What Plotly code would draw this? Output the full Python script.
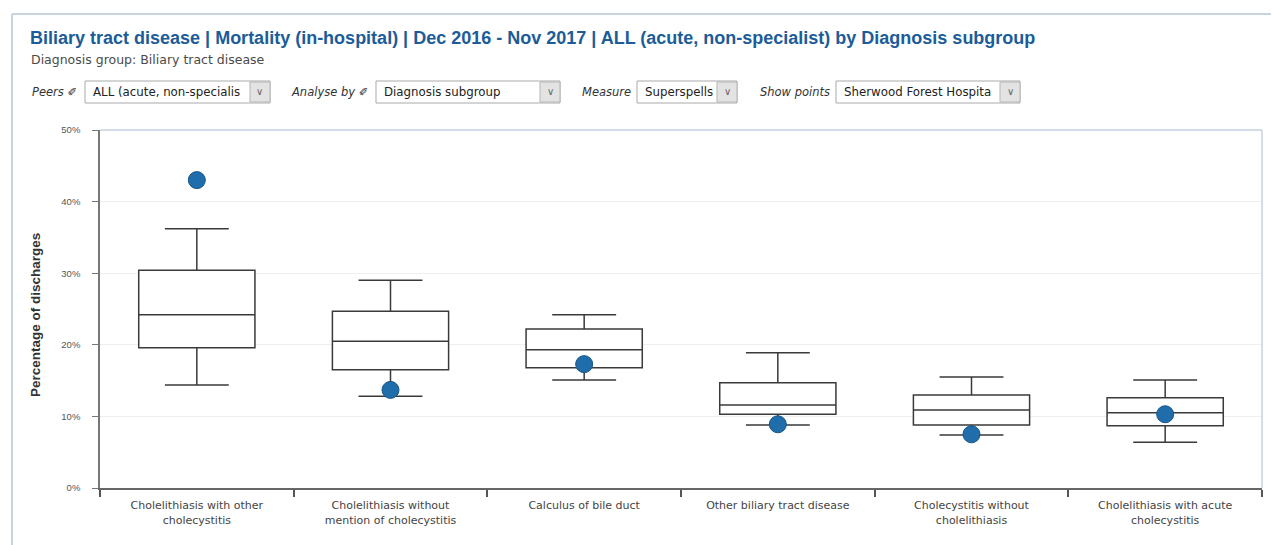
import plotly.graph_objects as go

categories = ["Cholelithiasis with other cholecystitis",
              "Cholelithiasis without mention of cholecystitis",
              "Calculus of bile duct",
              "Other biliary tract disease",
              "Cholecystitis without cholelithiasis",
              "Cholelithiasis with acute cholecystitis"]
tick_labels = ["Cholelithiasis with other<br>cholecystitis",
               "Cholelithiasis without<br>mention of cholecystitis",
               "Calculus of bile duct",
               "Other biliary tract disease",
               "Cholecystitis without<br>cholelithiasis",
               "Cholelithiasis with acute<br>cholecystitis"]
lower_whisker = [14.4, 12.8, 15.1, 8.8, 7.4, 6.4]
q1_values = [19.6, 16.5, 16.8, 10.3, 8.8, 8.7]
median_values = [24.2, 20.5, 19.3, 11.6, 10.9, 10.5]
q3_values = [30.4, 24.7, 22.2, 14.7, 13.0, 12.6]
upper_whisker = [36.2, 29.0, 24.2, 18.9, 15.5, 15.1]
trust_points = [43.0, 13.7, 17.3, 8.9, 7.5, 10.3]
y_ticks = [0, 10, 20, 30, 40, 50]

OFF = 8  # page body margin
W, H = 1279 - OFF, 545 - OFF
L, R, T, B = 100, 1262, 130, 488  # plot area in reference pixels


def px(x):
    return (x - L) / (R - L)


def py(y):
    return (B - y) / (B - T)


FONT = "Liberation Sans, Arial, sans-serif"
WIDE = "DejaVu Sans, Verdana, sans-serif"

fig = go.Figure()
fig.add_trace(go.Box(
    x=categories, q1=q1_values, median=median_values, q3=q3_values,
    lowerfence=lower_whisker, upperfence=upper_whisker,
    boxpoints=False, width=0.6, whiskerwidth=0.55,
    fillcolor="white", line=dict(color="#3a3a3a", width=1.5),
    hoverinfo="skip", showlegend=False))
fig.add_trace(go.Scatter(
    x=categories, y=trust_points, mode="markers",
    marker=dict(size=17, color="#1f6dab", line=dict(color="#1a5687", width=1)),
    showlegend=False))

shapes = []
shapes.append(dict(type="line", xref="paper", yref="paper",
                   x0=px(12), x1=px(1290), y0=py(14), y1=py(14),
                   line=dict(color="#c9d3dc", width=2)))
shapes.append(dict(type="line", xref="paper", yref="paper",
                   x0=px(12), x1=px(12), y0=py(14), y1=py(560),
                   line=dict(color="#c9d3dc", width=2)))
shapes.append(dict(type="line", xref="paper", yref="paper",
                   x0=0, x1=1, y0=1, y1=1, line=dict(color="#c4d2df", width=1.5)))
shapes.append(dict(type="line", xref="paper", yref="paper",
                   x0=1, x1=1, y0=0, y1=1, line=dict(color="#c4d2df", width=1.5)))

annotations = []
annotations.append(dict(
    text="<b>Biliary tract disease | Mortality (in-hospital) | Dec 2016 - Nov 2017 | ALL (acute, non-specialist) by Diagnosis subgroup</b>",
    xref="paper", yref="paper", x=px(28), y=py(38), xanchor="left", yanchor="middle",
    showarrow=False, font=dict(family=FONT, size=18, color="#1b5c99")))
annotations.append(dict(
    text="Diagnosis group: Biliary tract disease",
    xref="paper", yref="paper", x=px(29), y=py(59), xanchor="left", yanchor="middle",
    showarrow=False, font=dict(family=WIDE, size=12.5, color="#4a4a4a")))

controls = [
    ("Peers \u2710", 30, 85, 270, "ALL (acute, non-specialis"),
    ("Analyse by \u2710", 289, 376, 560, "Diagnosis subgroup"),
    ("Measure", 580, 637, 737, "Superspells"),
    ("Show points", 758, 836, 1020, "Sherwood Forest Hospita"),
]
for label, lx, bx0, bx1, val in controls:
    annotations.append(dict(text="<i>" + label + "</i>", xref="paper", yref="paper",
                            x=px(lx), y=py(92), xanchor="left", yanchor="middle",
                            showarrow=False, font=dict(family=WIDE, size=11.5, color="#333")))
    shapes.append(dict(type="rect", xref="paper", yref="paper",
                       x0=px(bx0), x1=px(bx1), y0=py(81), y1=py(103),
                       line=dict(color="#a9a9a9", width=1), fillcolor="white"))
    shapes.append(dict(type="rect", xref="paper", yref="paper",
                       x0=px(bx1 - 20), x1=px(bx1), y0=py(82), y1=py(102),
                       line=dict(color="#b5b5b5", width=1), fillcolor="#e3e3e3"))
    annotations.append(dict(text="\u2228", xref="paper", yref="paper",
                            x=px(bx1 - 10), y=py(92), xanchor="center", yanchor="middle",
                            showarrow=False, font=dict(family=FONT, size=10, color="#666")))
    annotations.append(dict(text=val, xref="paper", yref="paper",
                            x=px(bx0 + 6), y=py(92), xanchor="left", yanchor="middle",
                            showarrow=False, font=dict(family=WIDE, size=11.8, color="#222")))

annotations.append(dict(text="<b>Percentage of discharges</b>", xref="paper", yref="paper",
                        x=px(35), y=py(315), xanchor="center", yanchor="middle", textangle=-90,
                        showarrow=False, font=dict(family=FONT, size=13.5, color="#333")))

fig.update_layout(
    width=W, height=H,
    margin=dict(l=L - OFF, r=W - (R - OFF), t=T - OFF, b=H - (B - OFF)),
    paper_bgcolor="white", plot_bgcolor="white",
    shapes=shapes, annotations=annotations,
    xaxis=dict(type="category", categoryorder="array", categoryarray=categories,
               tickmode="array", tickvals=categories, ticktext=tick_labels,
               tickson="boundaries", ticks="outside", ticklen=7, tickwidth=1.5,
               tickcolor="#555", showline=True, linecolor="#666", linewidth=2,
               showgrid=False, range=[-0.5, 5.5], ticklabelstandoff=6,
               tickfont=dict(family=WIDE, size=11, color="#444")),
    yaxis=dict(range=[0, 50], tickvals=y_ticks, ticktext=[f"{v}%" for v in y_ticks],
               ticks="outside", ticklen=6, tickcolor="#777", showline=True,
               linecolor="#777", linewidth=1.5, showgrid=True, gridcolor="#efefef",
               ticklabelstandoff=10,
               zeroline=False, tickfont=dict(family=FONT, size=9.5, color="#555")),
)

fig.write_html("out.html")
